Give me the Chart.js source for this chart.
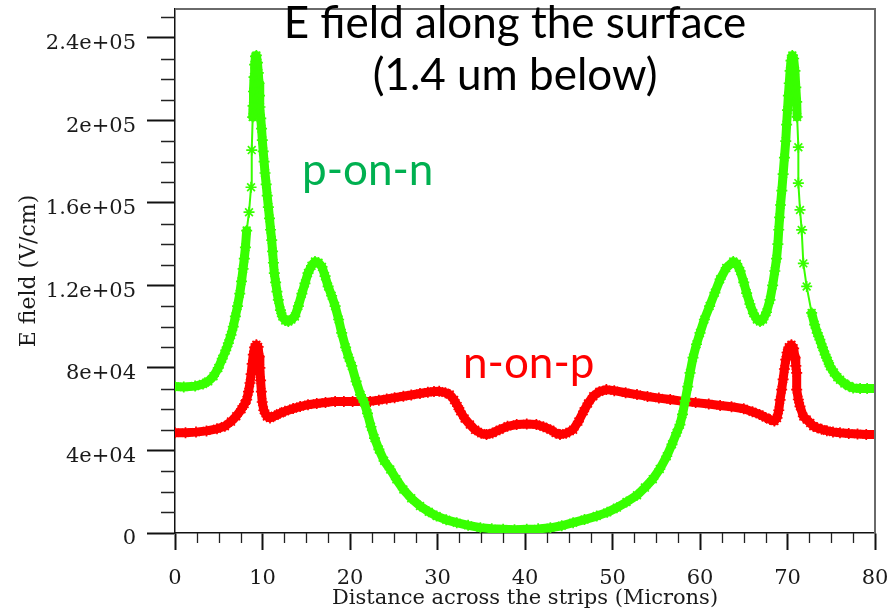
<!DOCTYPE html>
<html>
<head>
<meta charset="utf-8">
<script src="https://cdn.jsdelivr.net/npm/chart.js@4.4.0/dist/chart.umd.min.js"></script>
<style>
  html, body { margin: 0; padding: 0; background: #fff; }
</style>
</head>
<body>
<canvas id="fieldChart" width="894" height="611"></canvas>
<script>
// E field 1.4 um below the surface, across the strips (V/cm)
let xPonN = [0, 1.0, 2.3, 3.2, 3.8, 4.4, 4.95, 5.4, 5.8, 6.1, 6.4, 6.66, 6.9, 7.15, 7.4, 7.6, 7.78, 7.92, 8.05,
  8.19, 8.46, 8.69, 8.77, 8.88, 8.92, 8.97, 9.03, 9.1, 9.2, 9.3, 9.42, 9.52, 9.6, 9.66, 9.71, 9.8, 9.89, 9.98,
  10.08, 10.18, 10.29, 10.42, 10.54, 10.67, 10.8, 10.92, 11.05, 11.15, 11.25, 11.35, 11.5, 11.65, 11.81, 12.05,
  12.27, 12.6, 12.95, 13.3, 13.7, 14.1, 14.5, 14.85, 15.2, 15.6, 16.0, 16.4, 16.8, 17.15, 17.5, 17.9, 18.3, 18.7,
  19.05, 19.5, 19.85, 20.2, 20.7, 21.2, 21.6, 22.0, 22.4, 22.8, 23.3, 23.9, 24.6, 25.3, 26.1, 27.0, 28.0, 29.0,
  29.9, 31.0, 32.2, 33.5, 34.9, 36.2, 37.5, 38.8, 40.2, 41.5, 42.9, 44.2, 45.5, 46.8, 48.2, 49.4, 50.5, 51.6,
  52.8, 53.7, 54.6, 55.4, 56.2, 56.8, 57.33, 57.71, 58.0, 58.3, 58.6, 58.86, 59.2, 59.6, 60.0, 60.5, 61.1, 61.7,
  62.3, 63.0, 63.8, 64.2, 64.6, 65.0, 65.33, 65.7, 66.1, 66.5, 66.86, 67.2, 67.6, 68.0, 68.3, 68.55, 68.75, 68.9,
  69.0, 69.1, 69.2, 69.35, 69.5, 69.65, 69.8, 69.9, 70.0, 70.1, 70.2, 70.3, 70.4, 70.55, 70.7, 70.85, 70.95,
  71.05, 71.1, 71.24, 71.24, 71.43, 71.62, 71.81, 72.19, 72.76, 73.1, 73.4, 73.7, 74.0, 74.3, 74.6, 74.86, 75.3,
  75.7, 76.0, 76.5, 77.0, 77.5, 78.3, 79.1, 80];
let ePonN = [71000, 70800, 71200, 72200, 73500, 76000, 80000, 84500, 88500, 92000, 96000, 100000, 105000, 110000,
  116000, 122000, 128000, 133000, 138500, 146600, 155500, 167600, 185600, 201600, 207000, 214000, 221000, 227000,
  231000, 231500, 228000, 223000, 218000, 212000, 206500, 201000, 196000, 190400, 185000, 180000, 174500, 169000,
  163500, 158000, 152500, 147000, 142000, 136500, 131000, 126000, 121500, 117000, 113000, 108000, 105000, 103000,
  102500, 103500, 105000, 110000, 116000, 121000, 126000, 129500, 131600, 131000, 129000, 124500, 119500, 115000,
  110000, 103500, 97000, 90000, 85000, 81000, 73500, 67000, 63500, 58000, 51500, 46000, 40500, 35000, 30800,
  26000, 21100, 16800, 13100, 10300, 8200, 6400, 5000, 3700, 2600, 2100, 1800, 1600, 1800, 2000, 2500, 3500,
  5000, 6500, 8200, 10000, 12300, 15000, 18300, 22000, 26100, 31000, 37200, 43000, 48600, 52500, 57500, 64000,
  71000, 77600, 85000, 91500, 97000, 103500, 110000, 116500, 123000, 128500, 131600, 130500, 127000, 121500,
  116300, 111000, 106500, 103500, 102500, 103500, 107000, 113000, 120000, 127000, 133000, 140000, 147000, 153000,
  159000, 166000, 174000, 182000, 190000, 198000, 205000, 212000, 218000, 224000, 229000, 231500, 230000, 224000,
  216000, 209000, 201700, 187000, 169600, 156600, 146900, 130700, 119500, 106700, 101000, 97000, 93700, 90000,
  86500, 83500, 80800, 77800, 75500, 74300, 72500, 71200, 70300, 70000, 70000, 70000];

let xNonP = [0, 1.2, 2.4, 3.6, 4.8, 5.7, 6.4, 7.0, 7.6, 7.95, 8.19, 8.4, 8.57, 8.7, 8.82, 8.95, 9.1, 9.3, 9.5, 9.62,
  9.7, 9.78, 9.87, 9.97, 10.15, 10.5, 10.86, 11.4, 12.0, 12.57, 13.5, 14.3, 15.2, 16.2, 17.2, 18.3, 19.3, 20.3,
  21.3, 22.3, 23.3, 24.2, 25.1, 26.1, 27.0, 28.0, 28.9, 29.6, 30.2, 30.9, 31.4, 31.9, 32.3, 32.6, 33.1, 33.7,
  34.3, 35.0, 35.6, 36.3, 37.1, 38.0, 39.05, 40.2, 41.3, 42.1, 42.9, 43.5, 44.0, 44.7, 45.5, 46.1, 46.7, 47.2,
  47.8, 48.5, 49.3, 50.2, 51.5, 52.8, 54.0, 55.3, 56.6, 58.1, 59.5, 61.0, 62.3, 63.6, 65.0, 66.0, 66.8, 67.5,
  68.0, 68.5, 68.8, 69.0, 69.15, 69.33, 69.5, 69.65, 69.8, 69.95, 70.15, 70.45, 70.7, 70.86, 70.95, 71.05,
  71.05, 71.24, 71.43, 71.81, 72.19, 72.6, 72.95, 73.4, 73.9, 74.5, 75.2, 76.0, 77.0, 78.0, 79.0, 80];
let eNonP = [48600, 48600, 48900, 49500, 50500, 51800, 54000, 56600, 60000, 62500, 64600, 68500, 72700, 77000,
  82000, 86500, 90000, 91200, 90200, 85500, 80000, 74000, 68500, 63500, 59500, 56500, 55800, 56800, 58000, 59000,
  60300, 61300, 62200, 62800, 63300, 63800, 63800, 63800, 63800, 63800, 64400, 65000, 65600, 66300, 66900, 67600,
  68200, 68600, 68700, 68000, 67100, 64500, 61500, 59000, 55500, 52600, 50000, 48300, 47700, 48500, 50100, 51700,
  52600, 52800, 52600, 51500, 50100, 48500, 47700, 48300, 50100, 54000, 59000, 62800, 66300, 68500, 69500, 69000,
  68000, 67100, 66200, 65400, 64700, 63800, 63200, 62500, 61800, 61200, 60200, 58800, 57500, 56000, 55000, 54300,
  55800, 59500, 64500, 69500, 74500, 79500, 84000, 87500, 90000, 91200, 89500, 85000, 81000, 77600, 69500, 64700,
  61400, 56500, 55000, 53300, 51800, 51000, 50300, 49600, 49000, 48600, 48200, 48000, 47800, 47700];

let xTicks = [0, 10, 20, 30, 40, 50, 60, 70, 80];
let yTicks = [0, 40000, 80000, 120000, 160000, 200000, 240000];
let yTickLabels = ['0', '4e+04', '8e+04', '1.2e+05', '1.6e+05', '2e+05', '2.4e+05'];

let serif = { family: 'DejaVu Serif', size: 21 };
let ink = '#1a1a1a';

// dense runs of markers merge into a thick band, sparse steps keep a thin line
function bandWidth(ctx) {
    let d = Math.hypot(ctx.p1.x - ctx.p0.x, ctx.p1.y - ctx.p0.y);
    return d > 17 ? 2 : 9;
}

function series(xs, ys) {
    return xs.map((x, i) => ({ x: x, y: ys[i] }));
}

// minor ticks, top/right frame and the slide captions
const extras = {
    id: 'extras',
    afterDraw(chart) {
        const { ctx, chartArea: a, scales: { x, y } } = chart;
        ctx.save();
        ctx.strokeStyle = '#222';
        ctx.lineWidth = 1.3;
        ctx.beginPath();
        for (let v = 2.5; v < 80; v += 2.5) {
            if (v % 10 === 0) continue;
            let px = Math.round(x.getPixelForValue(v)) + 0.5;
            ctx.moveTo(px, a.bottom);
            ctx.lineTo(px, a.bottom + 10);
        }
        for (let v = 10000; v <= 250000; v += 10000) {
            if (v % 40000 === 0) continue;
            let py = Math.round(y.getPixelForValue(v)) + 0.5;
            ctx.moveTo(a.left - 14, py);
            ctx.lineTo(a.left, py);
        }
        ctx.stroke();

        ctx.strokeStyle = '#6a6a6a';
        ctx.lineWidth = 2;
        ctx.beginPath();
        ctx.moveTo(a.left, a.top);
        ctx.lineTo(a.right, a.top);
        ctx.lineTo(a.right, a.bottom);
        ctx.stroke();

        ctx.font = '44px Lato';
        ctx.textBaseline = 'alphabetic';
        ctx.textAlign = 'center';
        ctx.fillStyle = '#000';
        ctx.fillText('E field along the surface', 515, 38);
        ctx.fillText('(1.4 um below)', 515, 90);
        ctx.textAlign = 'left';
        ctx.fillStyle = '#00b050';
        ctx.fillText('p-on-n', 302, 185);
        ctx.fillStyle = '#ff0000';
        ctx.fillText('n-on-p', 463, 378);
        ctx.restore();
    }
};

const chart = new Chart(document.getElementById('fieldChart'), {
    type: 'line',
    data: {
        datasets: [{
            label: 'p-on-n',
            data: series(xPonN, ePonN),
            borderColor: '#38ff00',
            backgroundColor: '#38ff00',
            pointStyle: 'star',
            pointRadius: 5.5,
            pointBorderWidth: 1.7,
            borderJoinStyle: 'round',
            borderCapStyle: 'round',
            segment: { borderWidth: bandWidth },
            clip: 0
        }, {
            label: 'n-on-p',
            data: series(xNonP, eNonP),
            borderColor: '#ff0000',
            backgroundColor: '#ff0000',
            pointStyle: 'star',
            pointRadius: 5.5,
            pointBorderWidth: 1.7,
            borderJoinStyle: 'round',
            borderCapStyle: 'round',
            segment: { borderWidth: bandWidth },
            clip: 0
        }]
    },
    options: {
        responsive: false,
        animation: false,
        devicePixelRatio: 1,
        layout: { padding: { top: 9, right: 19, left: 0, bottom: 0 } },
        plugins: { legend: { display: false }, tooltip: { enabled: false } },
        elements: { line: { tension: 0 } },
        scales: {
            x: {
                type: 'linear',
                min: 0,
                max: 80,
                afterBuildTicks: s => { s.ticks = xTicks.map(v => ({ value: v })); },
                afterFit: s => { s.height = 78; s.paddingLeft = 0; s.paddingRight = 0; },
                border: { display: true, color: '#111', width: 1.5 },
                grid: { drawOnChartArea: false, drawTicks: true, tickLength: 17, tickColor: '#111', tickWidth: 2 },
                ticks: { font: serif, color: ink, padding: 16, maxRotation: 0, autoSkip: false },
                title: {
                    display: true,
                    text: 'Distance across the strips (Microns)',
                    font: serif,
                    color: ink,
                    padding: { top: 0, bottom: 0 }
                }
            },
            y: {
                type: 'linear',
                min: 0,
                max: 254000,
                afterBuildTicks: s => { s.ticks = yTicks.map(v => ({ value: v })); },
                afterFit: s => { s.width = 175; s.paddingTop = 0; s.paddingBottom = 0; },
                border: { display: true, color: '#111', width: 1.5 },
                grid: { drawOnChartArea: false, drawTicks: true, tickLength: 28, tickColor: '#111', tickWidth: 2 },
                ticks: {
                    font: serif,
                    color: ink,
                    padding: 11,
                    labelOffset: 6,
                    callback: v => yTickLabels[yTicks.indexOf(v)]
                },
                title: {
                    display: true,
                    text: 'E field (V/cm)',
                    font: { family: 'DejaVu Serif', size: 22 },
                    color: ink,
                    padding: { top: 16, bottom: 0 }
                }
            }
        }
    },
    plugins: [extras]
});
</script>
</body>
</html>
